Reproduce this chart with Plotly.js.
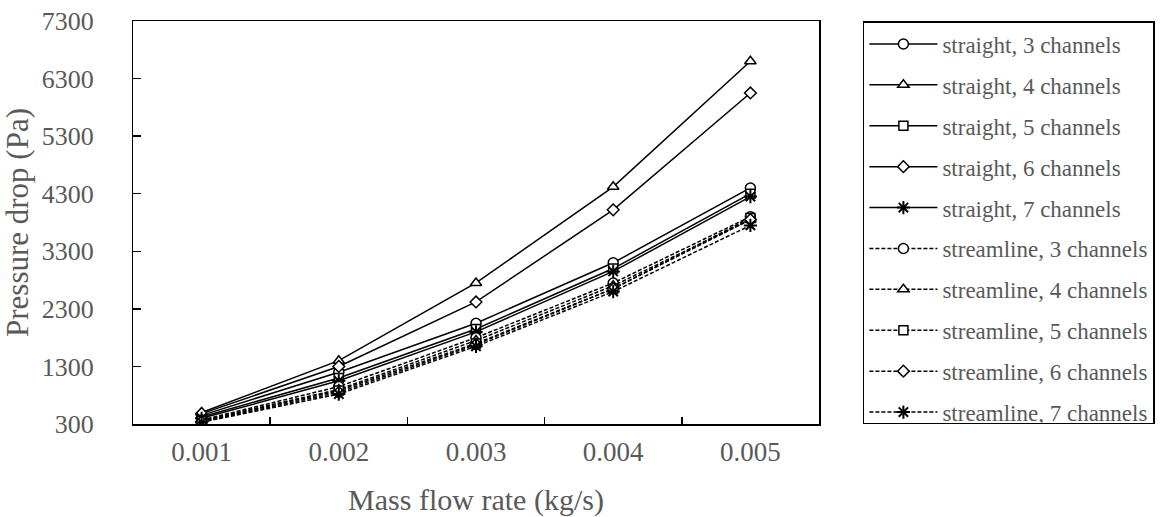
<!DOCTYPE html>
<html>
<head>
<meta charset="utf-8">
<script src="https://cdn.plot.ly/plotly-3.0.1.min.js"></script>
<style>
  html, body { margin: 0; padding: 0; background: #fff; }
  #chart { width: 1167px; height: 517px; }
</style>
</head>
<body>
<div id="chart"></div>
<script>
// Mass flow rate categories (kg/s)
const flowRates = ['0.001', '0.002', '0.003', '0.004', '0.005'];

// Pressure drop (Pa) — straight channel layouts
const straight3 = [450, 1200, 2050, 3100, 4400];
const straight4 = [500, 1400, 2750, 4420, 6600];
const straight5 = [420, 1100, 1950, 3000, 4300];
const straight6 = [480, 1300, 2420, 4020, 6050];
const straight7 = [400, 1050, 1900, 2950, 4250];

// Pressure drop (Pa) — streamline channel layouts
const stream3 = [370, 950, 1800, 2750, 3900];
const stream4 = [360, 900, 1750, 2700, 3850];
const stream5 = [350, 880, 1700, 2650, 3880];
const stream6 = [340, 850, 1680, 2650, 3850];
const stream7 = [330, 820, 1650, 2600, 3750];

const yTicks = [300, 1300, 2300, 3300, 4300, 5300, 6300, 7300];

const seriesDefs = [
  { name: 'straight, 3 channels',   y: straight3, sym: 'circle',        dash: 'solid' },
  { name: 'straight, 4 channels',   y: straight4, sym: 'triangle-up',   dash: 'solid' },
  { name: 'straight, 5 channels',   y: straight5, sym: 'square',        dash: 'solid' },
  { name: 'straight, 6 channels',   y: straight6, sym: 'diamond',       dash: 'solid' },
  { name: 'straight, 7 channels',   y: straight7, sym: 'asterisk-open', dash: 'solid' },
  { name: 'streamline, 3 channels', y: stream3,   sym: 'circle',        dash: '4px,2px' },
  { name: 'streamline, 4 channels', y: stream4,   sym: 'triangle-up',   dash: '4px,2px' },
  { name: 'streamline, 5 channels', y: stream5,   sym: 'square',        dash: '4px,2px' },
  { name: 'streamline, 6 channels', y: stream6,   sym: 'diamond',       dash: '4px,2px' },
  { name: 'streamline, 7 channels', y: stream7,   sym: 'asterisk-open', dash: '4px,2px' }
];

const markerSize = { 'circle': 10, 'triangle-up': 10, 'square': 9, 'diamond': 9, 'asterisk-open': 11 };

const traces = seriesDefs.map((s, i) => {
  const isLineSym = s.sym.indexOf('asterisk') === 0;
  return {
    type: 'scatter',
    mode: 'lines+markers',
    name: s.name,
    legendgroup: 'g' + i,
    x: flowRates,
    y: s.y,
    line: { color: '#000', width: 1.5, dash: s.dash },
    marker: {
      symbol: s.sym,
      size: markerSize[s.sym],
      color: isLineSym ? '#000' : '#fff',
      line: { color: '#000', width: isLineSym ? 2 : 1.5 }
    }
  };
});

const grey = '#595959';
const serif = 'Liberation Serif, Times New Roman, serif';
const pad = '\u00a0\u00a0\u00a0\u00a0\u00a0';

const layout = {
  width: 1167,
  height: 517,
  margin: { l: 133, r: 348, t: 21, b: 93 },
  paper_bgcolor: '#fff',
  plot_bgcolor: '#fff',
  showlegend: true,
  font: { family: serif, color: grey },
  xaxis: {
    type: 'category',
    range: [-0.5, flowRates.length - 0.5],
    tickson: 'boundaries',
    ticks: 'inside',
    ticklen: 7,
    tickwidth: 1.5,
    tickcolor: '#000',
    showline: true,
    linecolor: '#000',
    linewidth: 1.5,
    mirror: true,
    showgrid: false,
    zeroline: false,
    ticklabelstandoff: 3,
    tickfont: { family: serif, size: 27, color: grey },
    title: { text: 'Mass flow rate (kg/s)', font: { family: serif, size: 30, color: grey }, standoff: 24 }
  },
  yaxis: {
    range: [300, 7300],
    tickvals: yTicks,
    ticktext: yTicks.map(v => String(v) + pad),
    ticks: 'inside',
    ticklen: 8,
    tickwidth: 1.5,
    tickcolor: '#000',
    showline: true,
    linecolor: '#000',
    linewidth: 1.5,
    mirror: true,
    showgrid: false,
    zeroline: false,
    tickfont: { family: serif, size: 26, color: grey },
    title: { text: 'Pressure drop (Pa)', font: { family: serif, size: 31, color: grey }, standoff: 4 }
  },
  legend: {
    x: 1.064,
    xanchor: 'left',
    y: 1,
    yanchor: 'top',
    bordercolor: '#000',
    borderwidth: 1.5,
    bgcolor: '#fff',
    traceorder: 'grouped',
    tracegroupgap: 8,
    itemwidth: 68,
    font: { family: serif, size: 23, color: grey }
  }
};

Plotly.newPlot('chart', traces, layout, { displayModeBar: false, staticPlot: true });
</script>
</body>
</html>
